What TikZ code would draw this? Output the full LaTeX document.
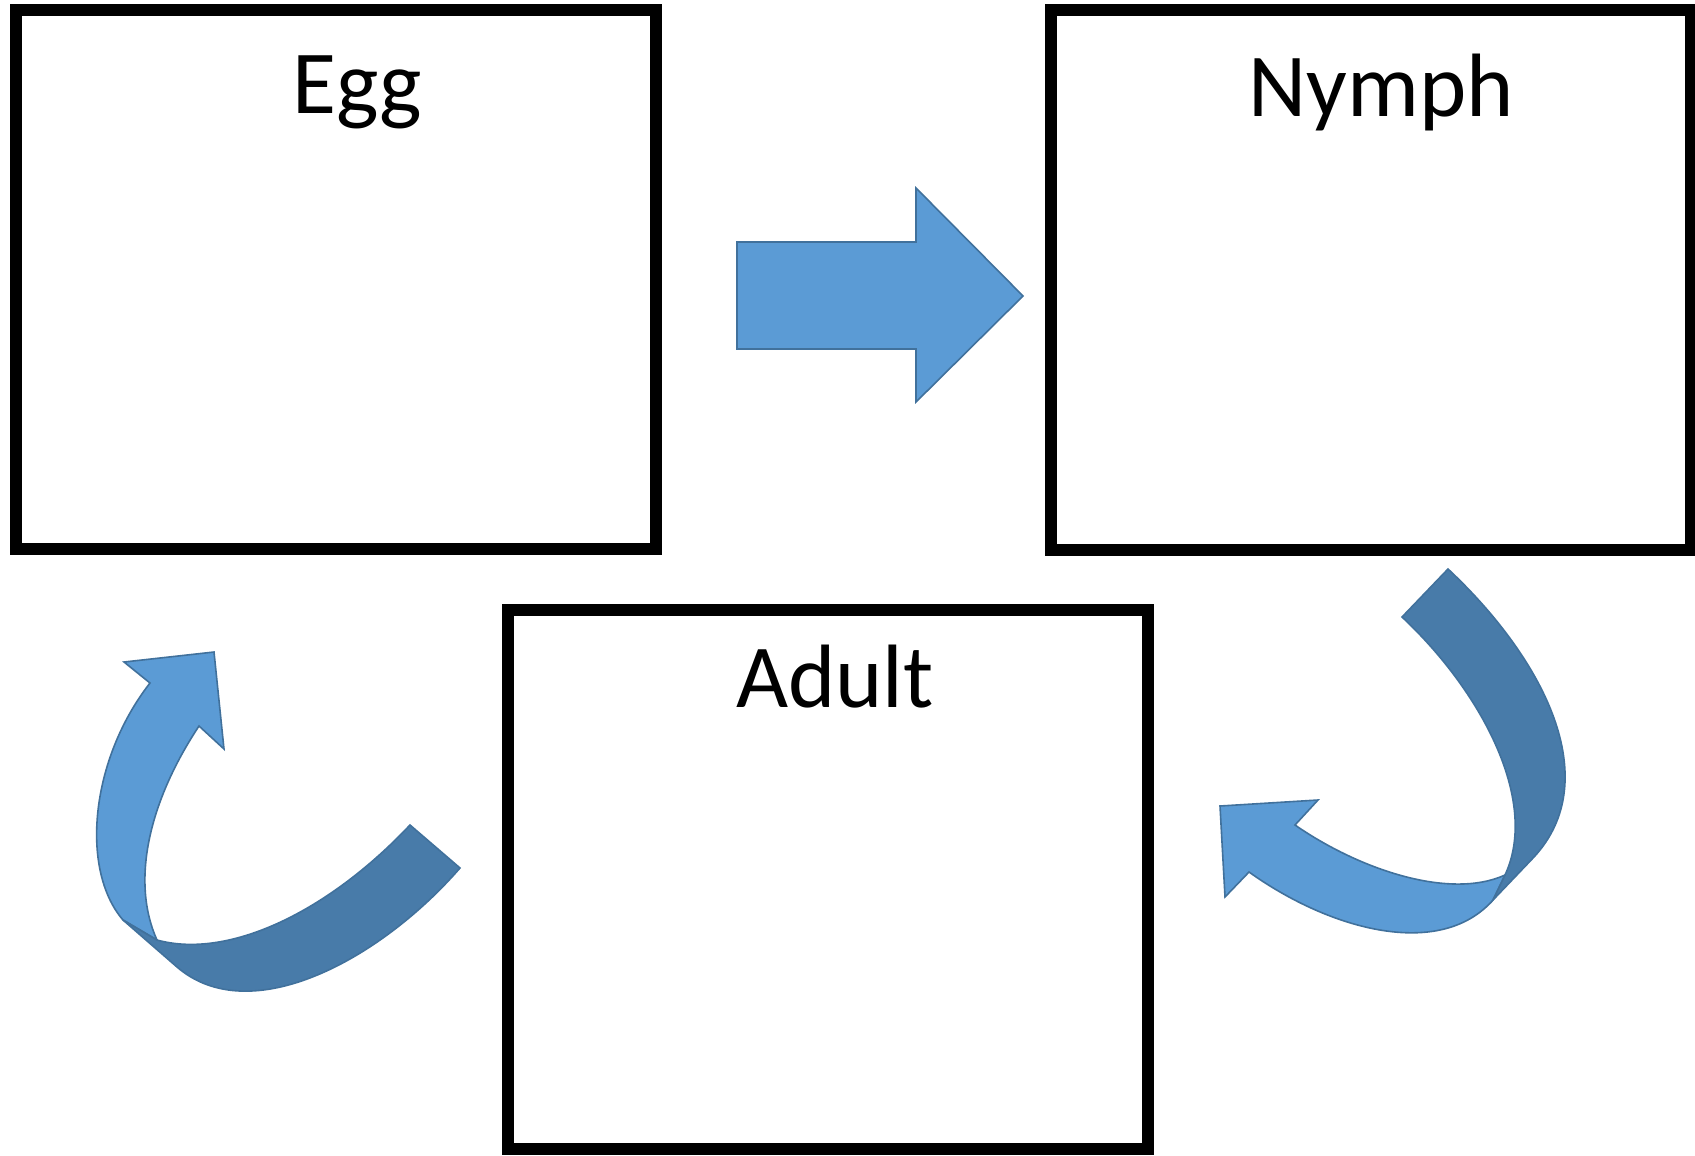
\documentclass[tikz,border=0pt]{standalone}
\usepackage{fontspec}
\setmainfont{Carlito}
\definecolor{arrowfill}{HTML}{5B9BD5}
\definecolor{arrowdark}{HTML}{487BA9}
\definecolor{arrowline}{HTML}{41719C}
\tikzset{
  stagebox/.style={draw=black, line width=6pt, minimum width=320pt, minimum height=269.5pt, inner sep=0pt},
  stagelabel/.style={anchor=base, inner sep=0pt, font=\fontsize{45pt}{52pt}\selectfont},
  blockarrow/.style={fill=arrowfill, draw=arrowline, line width=0.8pt, line join=miter},
  blockfold/.style={fill=arrowdark, draw=arrowline, line width=0.8pt, line join=miter}
}
\begin{document}
\begin{tikzpicture}[x=0.5pt, y=-0.5pt]
\useasboundingbox (0, 0) rectangle (1695, 1155);

\node[stagebox] (egg) at (336, 279.5) {};
\node[stagebox] (nymph) at (1370.5, 280) {};
\node[stagebox] (adult) at (828, 879.5) {};
\node[stagelabel] (egglabel) at (357, 113.5) {Egg};
\node[stagelabel] (nymphlabel) at (1381, 117) {Nymph};
\node[stagelabel] (adultlabel) at (835, 707) {Adult};

\draw[blockarrow] (737, 242) -- (916, 242) -- (916, 188) -- (1023, 296) -- (916, 402) -- (916, 349) -- (737, 349) -- cycle;

\draw[blockarrow] (1493, 900) .. controls (1440, 960) and (1330, 930) .. (1249, 872) -- (1225, 897) -- (1220, 806) -- (1318, 800) -- (1295, 825) .. controls (1360, 870) and (1450, 900) .. (1505, 875) -- cycle;
\draw[blockfold] (1448, 569) .. controls (1545, 660) and (1605, 780) .. (1534, 857) -- (1493, 900) -- (1505, 875) .. controls (1540, 800) and (1480, 690) .. (1402, 617) -- cycle;

\draw[blockarrow] (123, 920) .. controls (80, 870) and (90, 760) .. (150, 683) -- (124, 662) -- (214, 652) -- (224, 749) -- (199, 726) .. controls (150, 800) and (130, 880) .. (157, 940) -- cycle;
\draw[blockfold] (410, 825) -- (460, 868) .. controls (380, 960) and (250, 1030) .. (177, 967) -- (123, 920) -- (157, 940) .. controls (230, 960) and (330, 910) .. (410, 825) -- cycle;

\end{tikzpicture}
\end{document}
